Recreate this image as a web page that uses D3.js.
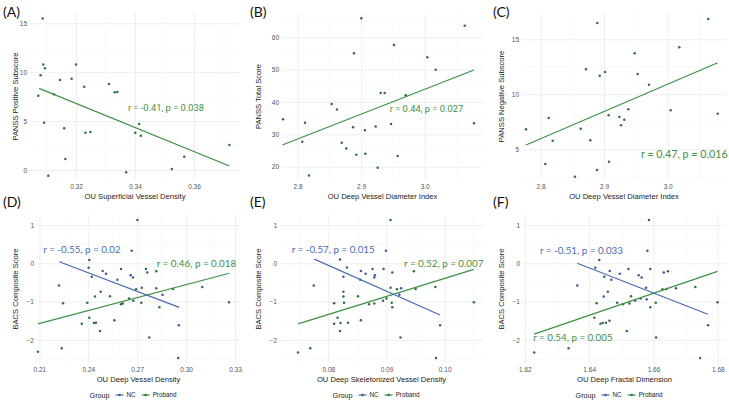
<!DOCTYPE html>
<html><head><meta charset="utf-8">
<script src="https://cdn.jsdelivr.net/npm/d3@7"></script>
<style>body{margin:0;background:#fff;} svg{display:block;}</style>
</head><body><svg id="c" width="729" height="401"></svg>
<script>
// ---------- DATA ----------
// (A) OU Superficial Vessel Density vs PANSS Positive Subscore (Proband)
const aX = [0.3087,0.3089,0.3095,0.3080,0.3072,0.3092,0.3106,0.3125,0.3146,0.3160,0.3164,0.3185,0.3200,0.3228,0.3232,0.3249,0.3312,0.3331,0.3340,0.3370,0.3401,0.3414,0.3420,0.3525,0.3567,0.3720];
const aY = [15.5,10.8,10.4,9.7,7.6,4.84,-0.58,7.74,9.2,4.26,1.12,9.34,10.8,8.52,3.82,3.89,8.8,7.95,7.98,-0.24,3.82,4.70,3.51,0.10,1.36,2.56];
const aFitX = [0.3075,0.3720], aFitY = [8.35,0.41];
// (B) OU Deep Vessel Diameter Index vs PANSS Total Score
const bX = [2.7772,2.8075,2.8118,2.8181,2.8538,2.8621,2.8695,2.8767,2.8873,2.8888,2.8925,2.9003,2.9061,2.9066,2.9230,2.9261,2.9308,2.9371,2.9470,2.9517,2.9575,2.9701,3.0041,3.0173,3.0629,3.0775];
const bY = [34.65,27.7,33.6,17.3,39.4,37.7,27.4,25.6,32.2,55.05,23.7,65.9,31.3,24.0,32.4,19.7,42.8,42.8,33.2,57.6,23.3,42.1,53.8,50.0,63.6,33.4];
const bFitX = [2.7761,3.0775], bFitY = [26.7,49.9];
// (C) OU Deep Vessel Diameter Index vs PANSS Negative Subscore
const cX = [2.7772,2.8075,2.8129,2.8192,2.8542,2.8632,2.8715,2.8783,2.8888,2.8893,2.8931,2.9014,2.9072,2.9077,2.9239,2.9266,2.9318,2.9381,2.9481,2.9528,2.9706,3.0047,3.0182,3.0638,3.0786];
const cY = [6.82,3.66,7.85,5.78,2.51,6.87,12.27,5.82,3.12,16.48,11.69,12.03,8.09,3.87,7.94,7.18,7.69,8.64,13.73,11.85,10.87,8.55,14.27,16.85,8.24];
const cFitX = [2.7772,3.0786], cFitY = [5.39,12.87];
// (D) OU Deep Vessel Density vs BACS Composite Score
const dNcX = [0.2666,0.2402,0.2488,0.2509,0.2421,0.2578,0.2660,0.2674,0.2754,0.2762,0.2220,0.2441,0.2728,0.2817,0.2676,0.2856,0.2955,0.2952];
const dNcY = [0.33,-0.115,-0.20,-0.27,-0.35,-0.43,-0.31,-0.37,-0.15,-0.24,-0.58,-0.87,-0.64,-0.65,-0.98,-0.82,-1.62,-2.47];
const dPrX = [0.2701,0.2406,0.2601,0.2817,0.2476,0.2533,0.2693,0.2920,0.3099,0.2245,0.2394,0.2650,0.2725,0.2836,0.2601,0.2611,0.2406,0.2360,0.2435,0.2447,0.2560,0.2472,0.2774,0.2237,0.3263,0.2091];
const dPrY = [1.13,0.086,-0.15,-0.21,-0.74,-0.86,-0.68,-0.67,-0.62,-1.04,-1.03,-0.92,-1.03,-1.15,-1.07,-1.05,-1.42,-1.58,-1.56,-1.55,-1.49,-1.77,-1.94,-2.22,-1.02,-2.31];
const dNcFitX = [0.2222,0.2958], dNcFitY = [0.04,-1.15];
const dPrFitX = [0.2091,0.3265], dPrFitY = [-1.58,-0.26];
// (E) OU Deep Skeletonized Vessel Density vs BACS Composite Score
const eNcX = [0.0899,0.0832,0.0826,0.0856,0.0864,0.0855,0.0880,0.0879,0.0895,0.0910,0.0775,0.0826,0.0907,0.0925,0.0894,0.0922,0.0992,0.0985];
const eNcY = [0.33,-0.11,-0.35,-0.20,-0.27,-0.43,-0.31,-0.37,-0.15,-0.24,-0.58,-0.87,-0.64,-0.65,-0.98,-0.82,-1.62,-2.47];
const ePrX = [0.0907,0.0820,0.0876,0.0947,0.0826,0.0851,0.0918,0.0950,0.0984,0.0810,0.0827,0.0900,0.0909,0.0910,0.0870,0.0879,0.0816,0.0810,0.0821,0.0834,0.0856,0.0820,0.0924,0.0769,0.1050,0.0748];
const ePrY = [1.13,0.10,-0.15,-0.21,-0.74,-0.86,-0.68,-0.67,-0.62,-1.04,-1.03,-0.92,-1.03,-1.15,-1.07,-1.05,-1.42,-1.58,-1.56,-1.55,-1.49,-1.77,-1.94,-2.22,-1.02,-2.33];
const eNcFitX = [0.0776,0.0992], eNcFitY = [0.11,-1.35];
const ePrFitX = [0.0748,0.1050], ePrFitY = [-1.58,-0.16];
// (F) OU Deep Fractal Dimension vs BACS Composite Score
const fNcX = [1.6581,1.6419,1.6464,1.6495,1.6447,1.6469,1.6554,1.6563,1.6590,1.6632,1.6363,1.6445,1.6577,1.6670,1.6579,1.6543,1.6770,1.6745];
const fNcY = [0.33,-0.115,-0.20,-0.27,-0.35,-0.43,-0.31,-0.37,-0.15,-0.24,-0.58,-0.87,-0.64,-0.65,-0.94,-0.98,-1.62,-2.47];
const fPrX = [1.6586,1.6431,1.6522,1.6645,1.6458,1.6530,1.6628,1.6730,1.6423,1.6487,1.6607,1.6590,1.6505,1.6525,1.6416,1.6435,1.6442,1.6452,1.6463,1.6517,1.6608,1.6336,1.6229,1.6799,1.6640,1.6560];
const fPrY = [1.13,0.086,-0.15,-0.21,-0.74,-0.86,-0.68,-0.62,-1.04,-1.03,-1.03,-1.15,-1.07,-1.05,-1.42,-1.58,-1.56,-1.55,-1.50,-1.77,-1.94,-2.22,-2.33,-1.02,-0.67,-0.92];
const fNcFitX = [1.6363,1.6769], fNcFitY = [0.0,-1.33];
const fPrFitX = [1.6229,1.6799], fPrFitY = [-1.85,-0.21];

// tick values
const aXTicks = [0.32,0.34,0.36], aYTicks = [0,5,10,15];
const bcXTicks = [2.8,2.9,3.0];
const bYTicks = [20,30,40,50,60], cYTicks = [5,10,15];
const dXTicks = [0.21,0.24,0.27,0.30,0.33];
const eXTicks = [0.08,0.09,0.10];
const fXTicks = [1.62,1.64,1.66,1.68];
const bacsYTicks = [-2,-1,0,1];
const groups = ["NC","Proband"];

// ---------- STYLE ----------
const GREEN = "#3f9146", BLUE = "#4a6cb3";
const PT_GREEN = "#2f7040", PT_BLUE = "#3a58a0";
const svg = d3.select("#c");
const AXFONT = "'Liberation Sans', Arial, sans-serif";

function zip(xs, ys){ return xs.map((v,i)=>({x:v,y:ys[i]})); }

const panels = [
 {tag:"(A)", ox:0, oy:0, box:[30,240,13,180], xCal:[0.32,76,0.36,194], yCal:[0,170,15,23.3],
  xTicks:aXTicks, yTicks:aYTicks, xFmt:d3.format(".2f"), yFmt:d3.format("d"), yLabR:27,
  xTitle:"OU Superficial Vessel Density", yTitle:"PANSS Positive Subscore",
  series:[{pts:zip(aX,aY), fit:zip(aFitX,aFitY), col:GREEN, pc:PT_GREEN, lab:"r = -0.41, p = 0.038", lx:0.3376, ly:6.41, font:"Roboto", fs:9.3}]},
 {tag:"(B)", ox:243, oy:0, box:[39,240,13,180], xCal:[2.8,54.5,3.0,181.7], yCal:[20,166.7,60,37.3],
  xTicks:bcXTicks, yTicks:bYTicks, xFmt:d3.format(".1f"), yFmt:d3.format("d"), yLabR:36,
  xTitle:"OU Deep Vessel Diameter Index", yTitle:"PANSS Total Score",
  series:[{pts:zip(bX,bY), fit:zip(bFitX,bFitY), col:GREEN, pc:PT_GREEN, lab:"r = 0.44, p = 0.027", lx:2.945, ly:37.93, font:"Roboto", fs:9.3}]},
 {tag:"(C)", ox:486, oy:0, box:[36,240,13,180], xCal:[2.8,54.5,3.0,181.7], yCal:[5,149.3,15,39.3],
  xTicks:bcXTicks, yTicks:cYTicks, xFmt:d3.format(".1f"), yFmt:d3.format("d"), yLabR:33,
  xTitle:"OU Deep Vessel Diameter Index", yTitle:"PANSS Negative Subscore",
  series:[{pts:zip(cX,cY), fit:zip(cFitX,cFitY), col:GREEN, pc:PT_GREEN, lab:"r = 0.47, p = 0.016", lx:2.958, ly:4.57, font:"Lato", fs:10.7}]},
 {tag:"(D)", ox:0, oy:190, box:[37,240,25,173], xCal:[0.24,88.3,0.30,186.1], yCal:[0,73.3,1,35],
  xTicks:dXTicks, yTicks:bacsYTicks, xFmt:d3.format(".2f"), yFmt:d3.format("d"), yLabR:34, legend:true,
  xTitle:"OU Deep Vessel Density", yTitle:"BACS Composite Score",
  series:[{pts:zip(dPrX,dPrY), fit:zip(dPrFitX,dPrFitY), col:GREEN, pc:PT_GREEN, lab:"r = 0.46, p = 0.018", lx:0.2820, ly:0.0, font:"Lato", fs:9.8},
          {pts:zip(dNcX,dNcY), fit:zip(dNcFitX,dNcFitY), col:BLUE, pc:PT_BLUE, lab:"r = -0.55, p = 0.02", lx:0.2124, ly:0.35, font:"Lato", fs:9.8}]},
 {tag:"(E)", ox:243, oy:190, box:[37,240,25,173], xCal:[0.08,85.3,0.10,201.7], yCal:[0,73.3,1,35],
  xTicks:eXTicks, yTicks:bacsYTicks, xFmt:d3.format(".2f"), yFmt:d3.format("d"), yLabR:34, legend:true,
  xTitle:"OU Deep Skeletonized Vessel Density", yTitle:"BACS Composite Score",
  series:[{pts:zip(ePrX,ePrY), fit:zip(ePrFitX,ePrFitY), col:GREEN, pc:PT_GREEN, lab:"r = 0.52, p = 0.007", lx:0.09301, ly:0.0, font:"Lato", fs:9.8},
          {pts:zip(eNcX,eNcY), fit:zip(eNcFitX,eNcFitY), col:BLUE, pc:PT_BLUE, lab:"r = -0.57, p = 0.015", lx:0.07371, ly:0.365, font:"Lato", fs:9.8}]},
 {tag:"(F)", ox:486, oy:190, box:[37,240,25,173], xCal:[1.64,103.2,1.68,231.8], yCal:[0,73.3,1,35],
  xTicks:fXTicks, yTicks:bacsYTicks, xFmt:d3.format(".2f"), yFmt:d3.format("d"), yLabR:34, legend:true,
  xTitle:"OU Deep Fractal Dimension", yTitle:"BACS Composite Score",
  series:[{pts:zip(fPrX,fPrY), fit:zip(fPrFitX,fPrFitY), col:GREEN, pc:PT_GREEN, lab:"r = 0.54, p = 0.005", lx:1.6226, ly:-1.94, font:"Lato", fs:9.8},
          {pts:zip(fNcX,fNcY), fit:zip(fNcFitX,fNcFitY), col:BLUE, pc:PT_BLUE, lab:"r = -0.51, p = 0.033", lx:1.62469, ly:0.329, font:"Lato", fs:9.8}]}
];

function minorTicks(ticks, lo, hi){
  const s = ticks[1]-ticks[0], out=[];
  for(let k=-20;k<=40;k++){ const v = ticks[0]-s/2 + k*s; if(v>=lo && v<=hi) out.push(v); }
  return out;
}
function majorTicks(ticks, lo, hi){
  const s = ticks[1]-ticks[0], out=[];
  for(let k=-20;k<=40;k++){ const v = ticks[0] + k*s; if(v>=lo-1e-9 && v<=hi+1e-9) out.push(v); }
  return out;
}

panels.forEach(p=>{
  const g = svg.append("g");
  const L=p.ox+p.box[0], R=p.ox+p.box[1], T=p.oy+p.box[2], B=p.oy+p.box[3];
  const x = d3.scaleLinear().domain([p.xCal[0],p.xCal[2]]).range([p.ox+p.xCal[1],p.ox+p.xCal[3]]);
  const y = d3.scaleLinear().domain([p.yCal[0],p.yCal[2]]).range([p.oy+p.yCal[1],p.oy+p.yCal[3]]);
  const xlo=x.invert(L), xhi=x.invert(R), ylo=y.invert(B), yhi=y.invert(T);

  // grid (minor then major)
  const grid = (vals, col, w)=>{
    g.append("g").attr("transform",`translate(0,${B})`)
      .call(d3.axisBottom(x).tickValues(vals).tickSize(-(B-T)).tickFormat(""))
      .call(s=>{s.select(".domain").remove(); s.selectAll("line").attr("stroke",col).attr("stroke-width",w);});
  };
  const gridY = (vals, col, w)=>{
    g.append("g").attr("transform",`translate(${L},0)`)
      .call(d3.axisLeft(y).tickValues(vals).tickSize(-(R-L)).tickFormat(""))
      .call(s=>{s.select(".domain").remove(); s.selectAll("line").attr("stroke",col).attr("stroke-width",w);});
  };
  grid(minorTicks(p.xTicks,xlo,xhi), "#f3f3f3", 0.5);
  gridY(minorTicks(p.yTicks,ylo,yhi), "#f3f3f3", 0.5);
  grid(majorTicks(p.xTicks,xlo,xhi), "#e8e8e8", 0.7);
  gridY(majorTicks(p.yTicks,ylo,yhi), "#e8e8e8", 0.7);

  // tick labels
  g.append("g").attr("transform",`translate(0,${B})`)
    .call(d3.axisBottom(x).tickValues(p.xTicks).tickSize(0).tickFormat(p.xFmt))
    .call(s=>{s.select(".domain").remove();
      s.selectAll("text").attr("y",7).attr("dy","0.35em").attr("fill","#555").attr("font-size",6.5).attr("font-family",AXFONT);});
  g.append("g").attr("transform",`translate(${p.ox+p.yLabR},0)`)
    .call(d3.axisLeft(y).tickValues(p.yTicks).tickSize(0).tickFormat(p.yFmt))
    .call(s=>{s.select(".domain").remove();
      s.selectAll("text").attr("x",0).attr("dy","0.35em").attr("fill","#555").attr("font-size",6.5).attr("font-family",AXFONT);});

  // axis titles
  g.append("text").attr("x",(L+R)/2).attr("y",B+16).attr("dy","0.35em").attr("text-anchor","middle")
    .attr("font-family",AXFONT).attr("font-size",7.6).attr("fill","#222").text(p.xTitle);
  g.append("text").attr("transform",`translate(${p.ox+15},${(T+B)/2}) rotate(-90)`).attr("dy","0.35em")
    .attr("text-anchor","middle").attr("font-family",AXFONT).attr("font-size",7.6).attr("fill","#222").text(p.yTitle);

  // panel tag
  g.append("text").attr("x",p.ox+ (p.ox===0?3:7)).attr("y",p.oy+12).attr("dy","0.35em")
    .attr("font-family","Lato, sans-serif").attr("font-size",14).attr("fill","#111").text(p.tag);

  // series
  const line = d3.line().x(d=>x(d.x)).y(d=>y(d.y));
  p.series.forEach(s=>{
    g.append("g").selectAll("circle").data(s.pts).join("circle")
      .attr("cx",d=>x(d.x)).attr("cy",d=>y(d.y)).attr("r",1.25).attr("fill",s.pc);
  });
  p.series.forEach(s=>{
    g.append("path").datum(s.fit).attr("d",line).attr("fill","none").attr("stroke",s.col).attr("stroke-width",1.2);
    g.append("text").attr("x",x(s.lx)).attr("y",y(s.ly)).attr("dy","0.35em")
      .attr("font-family",s.font+", sans-serif").attr("font-size",s.fs).attr("fill",s.col).text(s.lab);
  });

  // legend
  if(p.legend){
    const lg = g.append("g");
    const cy = p.oy+205;
    let cx = 0;
    const items = [];
    const t0 = lg.append("text").attr("x",cx).attr("y",cy).attr("dy","0.35em").attr("font-family",AXFONT)
      .attr("font-size",7.2).attr("fill","#222").text("Group");
    cx += t0.node().getComputedTextLength()+6;
    groups.forEach((gname,i)=>{
      const col = i===0?BLUE:GREEN;
      lg.append("line").attr("x1",cx).attr("x2",cx+8).attr("y1",cy).attr("y2",cy).attr("stroke",col).attr("stroke-width",1.2);
      lg.append("circle").attr("cx",cx+4).attr("cy",cy).attr("r",1.25).attr("fill",i===0?PT_BLUE:PT_GREEN);
      cx += 11;
      const t = lg.append("text").attr("x",cx).attr("y",cy).attr("dy","0.35em").attr("font-family",AXFONT)
        .attr("font-size",6.3).attr("fill","#222").text(gname);
      cx += t.node().getComputedTextLength()+6;
    });
    const wTot = cx-6;
    lg.attr("transform",`translate(${p.ox+133-wTot/2},0)`);
  }
});
</script></body></html>
